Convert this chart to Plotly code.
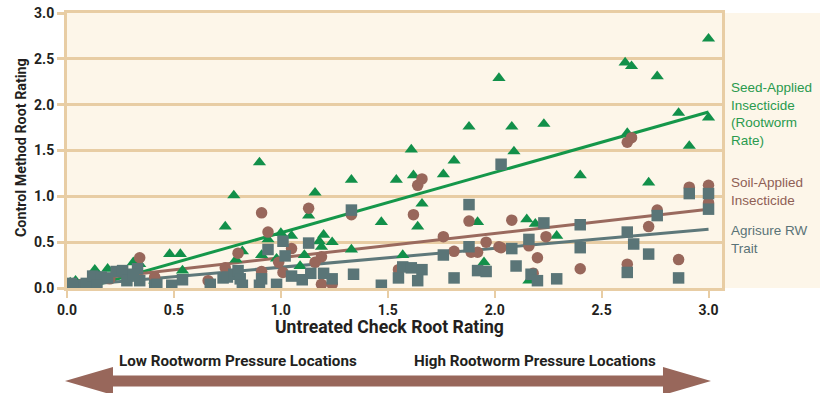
import plotly.graph_objects as go

# ---------------- data ----------------
seed_x = [3.0, 2.61, 2.64, 2.76, 2.02, 2.86, 3.0, 1.88, 2.08, 2.23, 2.62, 2.91, 1.61, 2.09, 1.81,
          0.90, 1.54, 1.62, 1.76, 2.40, 2.72, 1.33, 1.16, 0.78, 1.66, 1.13, 1.47, 1.64, 1.92, 0.74,
          1.00, 1.05, 0.94, 1.20, 1.18, 1.24, 1.19, 1.11, 0.91, 1.33, 1.57, 1.09, 1.95, 2.15, 2.19,
          2.29, 2.16, 0.015, 0.04, 0.13, 0.19, 0.31, 0.34, 0.48, 0.53, 0.54, 0.82, 0.79, 0.98, 0.41]
seed_y = [2.72, 2.46, 2.42, 2.31, 2.29, 1.91, 1.86, 1.76, 1.76, 1.79, 1.69, 1.55, 1.51, 1.49, 1.39,
          1.37, 1.18, 1.23, 1.24, 1.23, 1.15, 1.18, 1.04, 1.01, 0.92, 0.79, 0.72, 0.67, 0.72, 0.67,
          0.60, 0.57, 0.53, 0.58, 0.51, 0.50, 0.45, 0.36, 0.36, 0.42, 0.36, 0.24, 0.28, 0.75, 0.70,
          0.57, 0.08, 0.06, 0.08, 0.20, 0.21, 0.28, 0.26, 0.37, 0.37, 0.19, 0.40, 0.31, 0.32, 0.08]

soil_x = [0.34, 0.74, 0.91, 0.94, 0.66, 0.91, 0.41, 0.20, 1.13, 1.33, 1.62, 1.64, 1.66, 1.88,
          1.76, 1.96, 2.02, 1.81, 1.89, 1.92, 1.05, 1.19, 0.99, 1.16, 1.01, 1.55, 1.19, 1.24, 2.64,
          2.62, 2.91, 3.0, 3.0, 2.76, 2.72, 2.08, 2.24, 2.03, 2.16, 2.20, 2.40, 2.62, 2.86, 2.18, 0.80]
soil_y = [0.33, 0.22, 0.82, 0.61, 0.08, 0.18, 0.12, 0.10, 0.87, 0.80, 0.80, 1.12, 1.19, 0.73,
          0.56, 0.50, 0.45, 0.40, 0.39, 0.39, 0.43, 0.34, 0.28, 0.28, 0.17, 0.20, 0.04, 0.04, 1.64,
          1.59, 1.10, 1.12, 0.93, 0.85, 0.67, 0.74, 0.56, 0.44, 0.46, 0.33, 0.21, 0.26, 0.31, 0.16, 0.38]

trait_x = [0.02, 0.03, 0.08, 0.09, 0.12, 0.16, 0.19, 0.14, 0.23, 0.26, 0.33, 0.28, 0.34, 0.31, 0.41,
           0.42, 0.49, 0.54, 0.67, 0.73, 0.75, 0.78, 0.80, 0.81, 0.82, 0.90, 0.91, 0.98, 1.05, 1.10,
           1.14, 1.20, 1.24, 1.34, 1.47, 0.94, 1.01, 1.13, 1.02, 1.33, 1.88, 1.88, 1.76, 1.57, 1.61,
           1.66, 1.55, 1.64, 1.81, 1.92, 1.96, 2.03, 2.91, 3.0, 3.0, 2.76, 2.23, 2.40, 2.16, 2.08,
           2.62, 2.65, 2.40, 2.72, 2.10, 2.17, 2.20, 2.29, 2.62, 2.86]
trait_y = [0.05, 0.03, 0.03, 0.05, 0.13, 0.12, 0.11, 0.03, 0.18, 0.19, 0.21, 0.08, 0.08, 0.15, 0.03,
           0.04, 0.03, 0.09, 0.04, 0.11, 0.12, 0.15, 0.19, 0.10, 0.03, 0.03, 0.10, 0.04, 0.13, 0.09,
           0.16, 0.16, 0.10, 0.15, 0.03, 0.42, 0.51, 0.49, 0.35, 0.85, 0.91, 0.45, 0.36, 0.23, 0.22,
           0.20, 0.11, 0.08, 0.11, 0.19, 0.18, 1.35, 1.03, 1.03, 0.86, 0.79, 0.71, 0.69, 0.53, 0.43,
           0.61, 0.48, 0.44, 0.37, 0.24, 0.15, 0.08, 0.10, 0.17, 0.11]

# trend lines (end points)
seed_trend_x = [0.10, 3.0]
seed_trend_y = [0.01, 1.92]
soil_trend_x = [0.05, 3.0]
soil_trend_y = [0.08, 0.86]
trait_trend_x = [0.05, 3.0]
trait_trend_y = [0.03, 0.64]

x_ticks = [0.0, 0.5, 1.0, 1.5, 2.0, 2.5, 3.0]
x_tick_labels = ["0.0", "0.5", "1.0", "1.5", "2.0", "2.5", "3.0"]
y_ticks = [0.0, 0.5, 1.0, 1.5, 2.0, 2.5, 3.0]
y_tick_labels = ["0.0", "0.5", "1.0", "1.5", "2.0", "2.5", "3.0"]

series_labels = ["Seed-Applied<br>Insecticide<br>(Rootworm<br>Rate)",
                 "Soil-Applied<br>Insecticide",
                 "Agrisure RW<br>Trait"]
x_title = "Untreated Check Root Rating"
y_title = "Control Method Root Rating"
arrow_labels = ["Low Rootworm Pressure Locations", "High Rootworm Pressure Locations"]

# ---------------- styles ----------------
GREEN = "#12904a"
BROWN = "#98675b"
SLATE = "#5a7577"
TAN = "#e8cda4"
CREAM = "#fdf6e9"
INK = "#231f20"
NARROW = "Roboto, Liberation Sans, Arial, sans-serif"
PLAIN = "Liberation Sans, Arial, sans-serif"

W, H = 830, 393
ML, MR, MT, MB = 67, 108, 13, 105
PW, PH = W - ML - MR, H - MT - MB


def pp(px, py):
    """pixel position -> paper coordinates"""
    return (px - ML) / PW, (H - MB - py) / PH


fig = go.Figure()

for tx, ty, col in [(seed_trend_x, seed_trend_y, "#15974a"),
                    (soil_trend_x, soil_trend_y, "#9a6a5e"),
                    (trait_trend_x, trait_trend_y, "#5e787a")]:
    fig.add_trace(go.Scatter(x=tx, y=ty, mode="lines",
                             line=dict(color=col, width=3), hoverinfo="skip"))

fig.add_trace(go.Scatter(x=seed_x, y=seed_y, mode="markers",
                         marker=dict(symbol="triangle-up", size=11.5, color=GREEN)))
fig.add_trace(go.Scatter(x=soil_x, y=soil_y, mode="markers",
                         marker=dict(symbol="circle", size=11.5, color=BROWN)))
fig.add_trace(go.Scatter(x=trait_x, y=trait_y, mode="markers",
                         marker=dict(symbol="square", size=11.5, color=SLATE)))

# right-hand label panel background
x0, y0 = pp(722, 13)
x1, y1 = pp(820, 288)
fig.add_shape(type="rect", xref="paper", yref="paper", x0=x0, x1=x1, y0=y1, y1=y0,
              fillcolor=CREAM, line=dict(width=0), layer="below")

# double-headed arrow
pts = [(65, 381), (113, 367), (113, 375.5), (663, 375.5), (663, 367), (711, 381),
       (663, 395), (663, 386.5), (113, 386.5), (113, 395)]
path = "M " + " L ".join("%.4f,%.4f" % pp(a, b) for a, b in pts) + " Z"
fig.add_shape(type="path", xref="paper", yref="paper", path=path,
              fillcolor="#98675b", line=dict(width=0))

# series labels
for txt, col, cy in [(series_labels[0], "#2a9a4e", 114),
                     (series_labels[1], "#8f6055", 191.5),
                     (series_labels[2], "#5a7377", 239.5)]:
    ax, ay = pp(729, cy)
    fig.add_annotation(x=ax, y=ay, xref="paper", yref="paper", text=txt, showarrow=False,
                       xanchor="left", yanchor="middle", align="left",
                       font=dict(family=PLAIN, size=13.5, color=col))

# axis titles
ax, ay = pp(21, 148)
fig.add_annotation(x=ax, y=ay, xref="paper", yref="paper", text=y_title, showarrow=False,
                   textangle=-90, xanchor="center", yanchor="middle",
                   font=dict(family=NARROW, size=14.3, color=INK, weight="bold"))
ax, ay = pp(389, 327)
fig.add_annotation(x=ax, y=ay, xref="paper", yref="paper", text=x_title, showarrow=False,
                   xanchor="center", yanchor="middle",
                   font=dict(family=NARROW, size=17.6, color=INK, weight="bold"))
for txt, cx in zip(arrow_labels, [238, 535]):
    ax, ay = pp(cx, 361)
    fig.add_annotation(x=ax, y=ay, xref="paper", yref="paper", text=txt, showarrow=False,
                       xanchor="center", yanchor="middle",
                       font=dict(family=NARROW, size=15.2, color=INK, weight="bold"))

axis_font = dict(family=NARROW, size=14, color=INK, weight="bold")
fig.update_xaxes(range=[0, 3.063], tickvals=x_ticks, ticktext=x_tick_labels,
                 showgrid=False, zeroline=False, showline=True, linecolor=TAN, linewidth=3,
                 mirror=True, ticks="outside", ticklen=7, tickwidth=2, tickcolor=TAN,
                 tickfont=axis_font, automargin=False)
fig.update_yaxes(range=[0, 3.0], tickvals=y_ticks, ticktext=y_tick_labels,
                 showgrid=True, gridcolor=TAN, gridwidth=2.5, zeroline=False,
                 showline=True, linecolor=TAN, linewidth=3, mirror=True,
                 ticks="outside", ticklen=7, tickwidth=2.5, tickcolor=TAN,
                 tickfont=axis_font, automargin=False)

fig.update_layout(width=W, height=H, margin=dict(l=ML, r=MR, t=MT, b=MB, autoexpand=False),
                  paper_bgcolor="white", plot_bgcolor=CREAM, showlegend=False)

fig.write_html("out.html", config={"displayModeBar": False},
               post_script="document.body.style.margin='0px';document.body.style.padding='0px';")
